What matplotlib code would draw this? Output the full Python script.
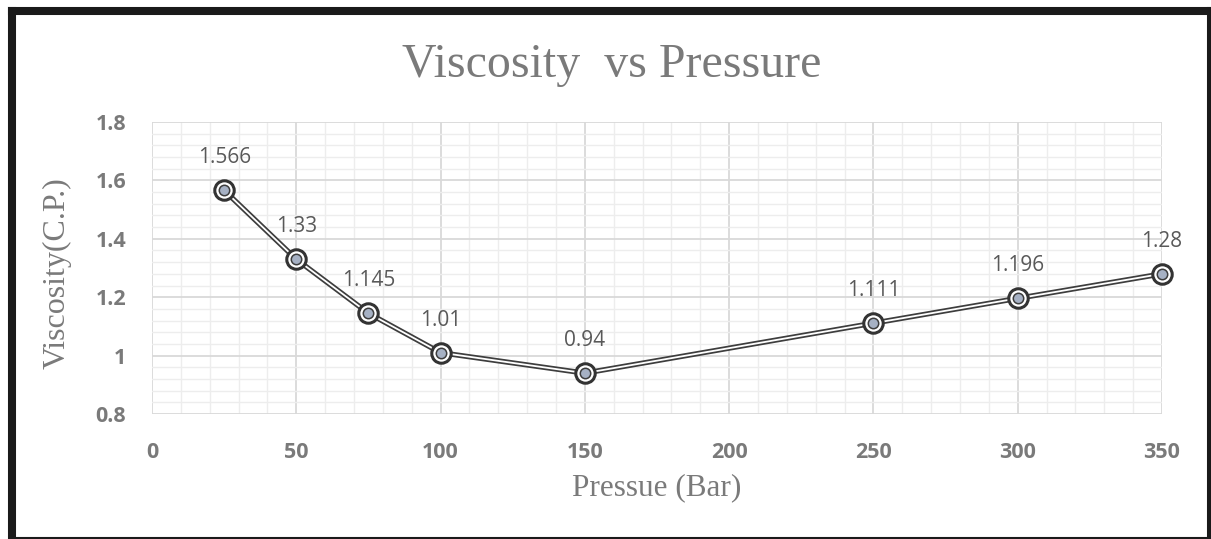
import matplotlib
matplotlib.use("Agg")
import matplotlib.pyplot as plt
from matplotlib.ticker import MultipleLocator
from matplotlib.lines import Line2D

pressure = [25, 50, 75, 100, 150, 250, 300, 350]
viscosity = [1.566, 1.33, 1.145, 1.01, 0.94, 1.111, 1.196, 1.28]
labels = ["1.566", "1.33", "1.145", "1.01", "0.94", "1.111", "1.196", "1.28"]
xticks = [0, 50, 100, 150, 200, 250, 300, 350]
xticklabels = ["0", "50", "100", "150", "200", "250", "300", "350"]
yticks = [0.8, 1.0, 1.2, 1.4, 1.6, 1.8]
yticklabels = ["0.8", "1", "1.2", "1.4", "1.6", "1.8"]

W, H = 1211, 539
fig = plt.figure(figsize=(W / 100, H / 100), dpi=100)
ax = fig.add_axes([152 / W, 1 - 414 / H, (1162 - 152) / W, (414 - 122) / H])

ax.set_xlim(0, 350)
ax.set_ylim(0.8, 1.8)
ax.xaxis.set_minor_locator(MultipleLocator(10))
ax.yaxis.set_minor_locator(MultipleLocator(0.04))
ax.grid(which="major", color="#d9d9d9", lw=1.3)
ax.grid(which="minor", color="#ededed", lw=1.0)
ax.set_axisbelow(True)
for s in ax.spines.values():
    s.set_visible(False)
ax.tick_params(which="both", length=0)
ax.tick_params(axis="y", pad=18.5)
ax.tick_params(axis="x", pad=20)

tick_font = dict(family="Open Sans", weight="bold", size=15.5)
ax.set_xticks(xticks)
ax.set_xticklabels(xticklabels, color="#7a7a7a", **tick_font)
ax.set_yticks(yticks)
ax.set_yticklabels(yticklabels, color="#7a7a7a", **tick_font)

# double line
ax.plot(pressure, viscosity, color="#3d3d3d", lw=3.8, zorder=3, solid_joinstyle="round", clip_on=False)
ax.plot(pressure, viscosity, color="white", lw=1.3, zorder=4, solid_joinstyle="round", clip_on=False)
# markers: dark ring, white ring, gray-blue center
ax.plot(pressure, viscosity, ls="none", marker="o", ms=14, mfc="white", mec="#333333", mew=2.2,
        zorder=5, clip_on=False)
ax.plot(pressure, viscosity, ls="none", marker="o", ms=7.5, mfc="#a6b1c4", mec="#3d3d3d", mew=1.1,
        zorder=6, clip_on=False)

for x, y, t in zip(pressure, viscosity, labels):
    ax.annotate(t, (x, y), xytext=(0, 19.5), textcoords="offset points", ha="center", va="baseline",
                fontsize=15, color="#595959", family="Open Sans")

fig.text(612 / W, 1 - 77 / H, "Viscosity  vs Pressure", ha="center", va="baseline",
         fontsize=34.5, color="#7a7a7a", family="Liberation Serif")
fig.text(57 / W, 1 - 273 / H, "Viscosity(C.P.)", ha="center", va="center", rotation=90,
         fontsize=23, color="#7a7a7a", family="Liberation Serif")
fig.text(657 / W, 1 - 495 / H, "Pressue (Bar)", ha="center", va="baseline",
         fontsize=22.5, color="#7a7a7a", family="Liberation Serif")

# outer black frame
frame_kw = dict(color="#1a1a1a", transform=fig.transFigure, figure=fig)
fig.lines.append(Line2D([12 / W, 12 / W], [0, 1 - 11 / H], lw=5.8, solid_capstyle="projecting", **frame_kw))
fig.lines.append(Line2D([12 / W, 1210.5 / W], [1 - 11 / H, 1 - 11 / H], lw=5.8, solid_capstyle="projecting", **frame_kw))
fig.lines.append(Line2D([1210.5 / W, 1210.5 / W], [0, 1 - 11 / H], lw=5.8, solid_capstyle="projecting", **frame_kw))
fig.lines.append(Line2D([12 / W, 1210 / W], [1 / H, 1 / H], lw=1.5, **frame_kw))

fig.savefig("out.png", dpi=100, facecolor="white")
